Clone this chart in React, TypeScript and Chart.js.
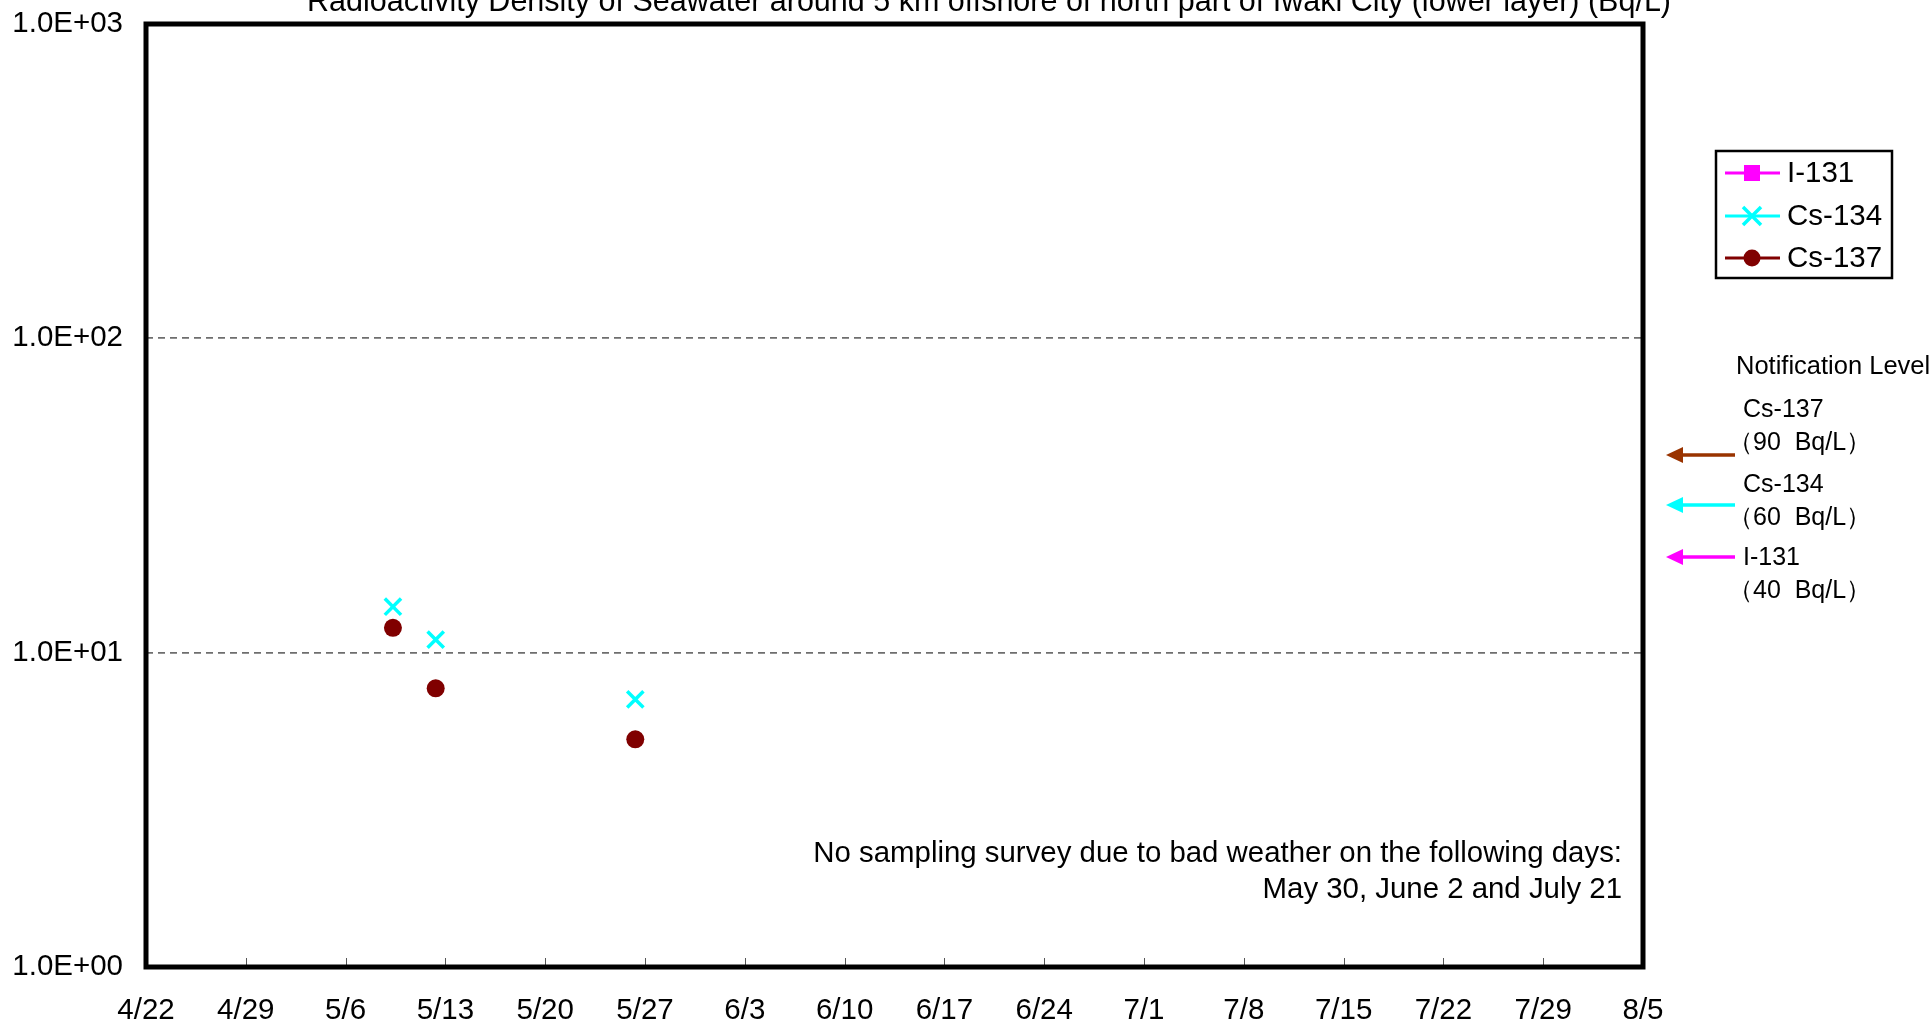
import { useEffect, useRef } from "react";
import { Chart, registerables } from "chart.js";

Chart.register(...registerables);

const TITLE =
  "Radioactivity Density of Seawater around 5 km offshore of north part of Iwaki City (lower layer) (Bq/L)";

const X_TICK_LABELS = [
  "4/22", "4/29", "5/6", "5/13", "5/20", "5/27", "6/3", "6/10",
  "6/17", "6/24", "7/1", "7/8", "7/15", "7/22", "7/29", "8/5",
];
const Y_TICK_VALUES = [1, 10, 100, 1000];
const Y_TICK_LABELS = ["1.0E+00", "1.0E+01", "1.0E+02", "1.0E+03"];

// sampling date and (morning) time of each survey
const SAMPLE_DATES = ["5/9 07:40", "5/12 07:40", "5/26 07:40"];
const I131: (number | null)[] = [null, null, null];
const CS134 = [14.0, 11.0, 7.1];
const CS137 = [12.0, 7.7, 5.3];

const NOTIFICATION_LABELS = ["Cs-137", "Cs-134", "I-131"];
const NOTIFICATION_LEVELS = ["（90  Bq/L）", "（60  Bq/L）", "（40  Bq/L）"];
const NOTIFICATION_COLORS = ["#993300", "#00FFFF", "#FF00FF"];

const NOTE_LINES = [
  "No sampling survey due to bad weather on the following days:",
  "May 30, June 2 and July 21",
];

const FONT = '"Liberation Sans", Arial, sans-serif';

function dayOf(s: string): number {
  const [md, hm] = s.split(" ");
  const [m, d] = md.split("/").map(Number);
  const [h, mi] = (hm || "0:0").split(":").map(Number);
  return Date.UTC(2011, m - 1, d, h, mi) / 86400000;
}

const X_TICK_VALUES = X_TICK_LABELS.map(dayOf);

function toPoints(values: (number | null)[]) {
  return SAMPLE_DATES.map((d, i) => ({ x: dayOf(d), y: values[i] })).filter(
    (p) => p.y !== null
  );
}

const decorPlugin = {
  id: "decor",
  beforeDraw(chart: any) {
    const ctx = chart.ctx;
    ctx.save();
    ctx.fillStyle = "#ffffff";
    ctx.fillRect(0, 0, chart.width, chart.height);
    ctx.restore();
  },
  afterDraw(chart: any) {
    const ctx = chart.ctx;
    const a = chart.chartArea;
    const xs = chart.scales.x;
    ctx.save();

    // inner tick marks on x axis
    ctx.strokeStyle = "#555";
    ctx.lineWidth = 1;
    X_TICK_VALUES.forEach((v) => {
      const px = Math.round(xs.getPixelForValue(v)) + 0.5;
      ctx.beginPath();
      ctx.moveTo(px, a.bottom);
      ctx.lineTo(px, a.bottom - 9);
      ctx.stroke();
    });

    // frame
    ctx.strokeStyle = "#000";
    ctx.lineWidth = 5;
    ctx.strokeRect(a.left, a.top, a.right - a.left, a.bottom - a.top);

    // title (clipped at top like reference)
    ctx.fillStyle = "#000";
    ctx.font = `30.5px ${FONT}`;
    ctx.textAlign = "center";
    ctx.textBaseline = "alphabetic";
    ctx.fillText(TITLE, 989, 11);

    // note
    ctx.textAlign = "right";
    ctx.textBaseline = "middle";
    ctx.font = `29.4px ${FONT}`;
    ctx.fillText(NOTE_LINES[0], a.right - 21, 854);
    ctx.fillText(NOTE_LINES[1], a.right - 21, 890);

    // legend
    const lx = 1716, ly = 151, lw = 176, lh = 127;
    ctx.lineWidth = 2.5;
    ctx.strokeStyle = "#000";
    ctx.strokeRect(lx, ly, lw, lh);
    const rows = [173, 216, 258];
    chart.data.datasets.forEach((ds: any, i: number) => {
      const y = rows[i];
      ctx.strokeStyle = ds.borderColor;
      ctx.lineWidth = 3;
      ctx.beginPath();
      ctx.moveTo(1725, y);
      ctx.lineTo(1780, y);
      ctx.stroke();
      const cx = 1752;
      if (ds.pointStyle === "rect") {
        ctx.fillStyle = ds.pointBackgroundColor;
        ctx.fillRect(cx - 8, y - 8, 16, 16);
      } else if (ds.pointStyle === "crossRot") {
        ctx.lineWidth = 3.5;
        ctx.beginPath();
        ctx.moveTo(cx - 9, y - 9);
        ctx.lineTo(cx + 9, y + 9);
        ctx.moveTo(cx + 9, y - 9);
        ctx.lineTo(cx - 9, y + 9);
        ctx.stroke();
      } else {
        ctx.fillStyle = ds.pointBackgroundColor;
        ctx.beginPath();
        ctx.arc(cx, y, 8.5, 0, Math.PI * 2);
        ctx.fill();
      }
      ctx.fillStyle = "#000";
      ctx.font = `29.5px ${FONT}`;
      ctx.textAlign = "left";
      ctx.textBaseline = "middle";
      ctx.fillText(ds.label, 1787, y + 1);
    });

    // notification levels
    ctx.font = `25.5px ${FONT}`;
    ctx.fillStyle = "#000";
    ctx.textAlign = "left";
    ctx.textBaseline = "middle";
    ctx.fillText("Notification Level", 1736, 367);
    const labelY = [410, 485, 558];
    const arrowY = [455, 505, 557];
    NOTIFICATION_LABELS.forEach((lab, i) => {
      ctx.fillStyle = "#000";
      ctx.font = `25px ${FONT}`;
      ctx.fillText(lab, 1743, labelY[i]);
      ctx.fillText(NOTIFICATION_LEVELS[i], 1728, labelY[i] + 33);
      const ay = arrowY[i];
      ctx.strokeStyle = NOTIFICATION_COLORS[i];
      ctx.fillStyle = NOTIFICATION_COLORS[i];
      ctx.lineWidth = 3.5;
      ctx.beginPath();
      ctx.moveTo(1735, ay);
      ctx.lineTo(1680, ay);
      ctx.stroke();
      ctx.beginPath();
      ctx.moveTo(1666, ay);
      ctx.lineTo(1683, ay - 8);
      ctx.lineTo(1683, ay + 8);
      ctx.closePath();
      ctx.fill();
    });

    ctx.restore();
  },
};

export default function App() {
  const ref = useRef<HTMLCanvasElement | null>(null);

  useEffect(() => {
    if (!ref.current) return;
    const chart = new Chart(ref.current, {
      type: "line",
      data: {
        datasets: [
          {
            label: "I-131",
            data: toPoints(I131) as any,
            borderColor: "#FF00FF",
            backgroundColor: "#FF00FF",
            pointBackgroundColor: "#FF00FF",
            pointBorderColor: "#FF00FF",
            pointStyle: "rect",
            pointRadius: 9,
            showLine: false,
          },
          {
            label: "Cs-134",
            data: toPoints(CS134) as any,
            borderColor: "#00FFFF",
            backgroundColor: "#00FFFF",
            pointBackgroundColor: "#00FFFF",
            pointBorderColor: "#00FFFF",
            pointStyle: "crossRot",
            pointRadius: 11.5,
            pointBorderWidth: 3.5,
            showLine: false,
          },
          {
            label: "Cs-137",
            data: toPoints(CS137) as any,
            borderColor: "#800000",
            backgroundColor: "#800000",
            pointBackgroundColor: "#800000",
            pointBorderColor: "#800000",
            pointStyle: "circle",
            pointRadius: 9,
            pointBorderWidth: 0,
            showLine: false,
          },
        ],
      },
      options: {
        animation: false,
        responsive: true,
        maintainAspectRatio: false,
        layout: { padding: { left: 0, right: 289, top: 24, bottom: 0 } },
        plugins: {
          legend: { display: false },
          title: { display: false },
          tooltip: { enabled: false },
        },
        scales: {
          x: {
            type: "linear",
            min: X_TICK_VALUES[0],
            max: X_TICK_VALUES[X_TICK_VALUES.length - 1],
            afterBuildTicks: (scale: any) => {
              scale.ticks = X_TICK_VALUES.map((v) => ({ value: v }));
            },
            afterFit: (scale: any) => {
              scale.height = 57;
              scale.paddingLeft = 0;
              scale.paddingRight = 0;
            },
            grid: { display: false, drawTicks: false },
            border: { display: false },
            ticks: {
              autoSkip: false,
              maxRotation: 0,
              minRotation: 0,
              padding: 26,
              color: "#000",
              font: { family: FONT, size: 29.5 },
              callback: (v: any) => X_TICK_LABELS[X_TICK_VALUES.indexOf(v)] ?? "",
            },
          },
          y: {
            type: "logarithmic",
            min: 1,
            max: 1000,
            afterBuildTicks: (scale: any) => {
              scale.ticks = Y_TICK_VALUES.map((v) => ({ value: v }));
            },
            afterFit: (scale: any) => {
              scale.width = 146;
              scale.paddingTop = 0;
              scale.paddingBottom = 0;
            },
            grid: {
              drawTicks: false,
              lineWidth: 1.8,
              color: (c: any) =>
                c.tick && (c.tick.value === 10 || c.tick.value === 100)
                  ? "#6e6e6e"
                  : "rgba(0,0,0,0)",
            },
            border: { display: false, dash: [7, 5] },
            ticks: {
              padding: 23,
              color: "#000",
              font: { family: FONT, size: 29.5 },
              callback: (v: any) => Y_TICK_LABELS[Y_TICK_VALUES.indexOf(v)] ?? "",
            },
          },
        },
      },
      plugins: [decorPlugin],
    });
    return () => chart.destroy();
  }, []);

  return (
    <div style={{ position: "absolute", left: 0, top: 0, width: 1932, height: 1024 }}>
      <canvas ref={ref} />
    </div>
  );
}
